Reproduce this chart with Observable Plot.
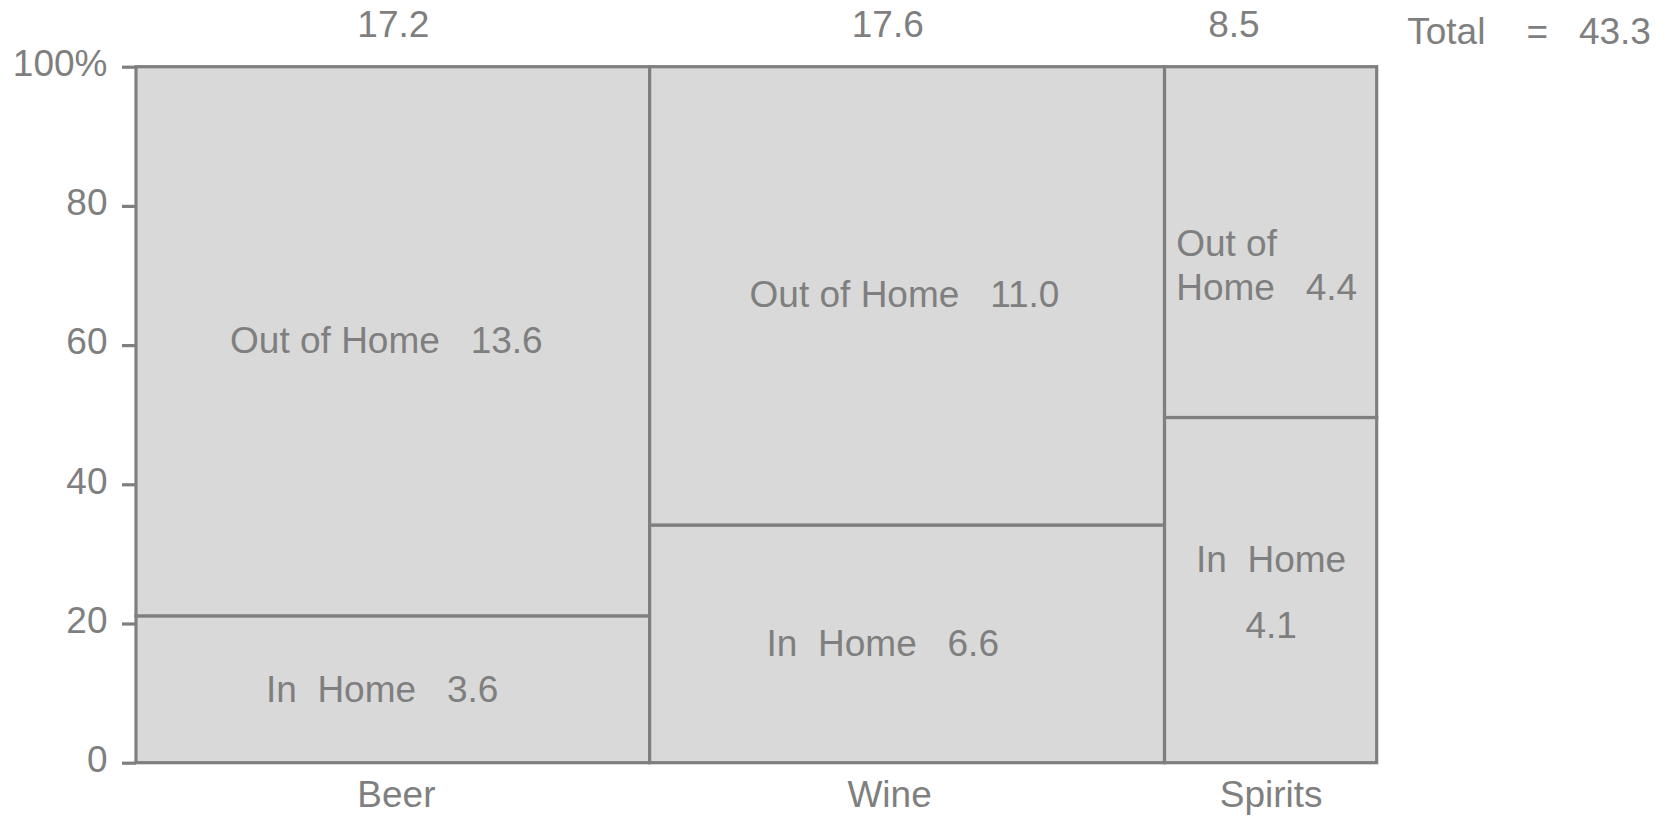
<!DOCTYPE html>
<html><head><meta charset="utf-8">
<script src="https://cdn.jsdelivr.net/npm/d3@7"></script>
<script src="https://cdn.jsdelivr.net/npm/@observablehq/plot@0.6"></script>
<style>
html,body{margin:0;padding:0;background:#fff;overflow:hidden;}
svg text{white-space:pre;}
</style></head><body><div id="chart"></div>
<script>
// ---- data ----
const categories = ["Beer", "Wine", "Spirits"];
const categoryTotals = [17.2, 17.6, 8.5];
const inHomeValues = [3.6, 6.6, 4.1];
const outOfHomeValues = [13.6, 11.0, 4.4];
const grandTotal = 43.3;
// column widths (% of horizontal span) and In-Home split heights (%) as drawn
const columnShares = [41.4, 41.5, 17.1];
const inHomeShares = [21.1, 34.15, 49.6];
const yTicks = [0, 20, 40, 60, 80, 100];
const yTickLabels = ["0", "20", "40", "60", "80", "100%"];

// ---- layout nudges (x-scale units) ----
const topNudge = [0, -1.6, -3.0];
const bottomNudge = [0.25, -1.45, 0];
const outNudge = [-0.56, -0.25];
const inNudge = [-0.9, -2.0];

// build columns
let acc = 0;
const cols = categories.map((c, i) => {
  const x1 = acc; acc += columnShares[i];
  return {cat: c, i, x1, x2: acc, mid: (x1 + acc) / 2};
});
const cells = cols.flatMap(c => [
  {cat: c.cat, seg: "In Home", x1: c.x1, x2: c.x2, y1: 0, y2: inHomeShares[c.i]},
  {cat: c.cat, seg: "Out of Home", x1: c.x1, x2: c.x2, y1: inHomeShares[c.i], y2: 100}
]);

const wideCols = cols.filter(c => c.i < 2);
const narrow = cols[2];

const gray = "#7f7f7f";

const chart = Plot.plot({
  width: 1669,
  height: 818,
  marginLeft: 136,
  marginRight: 292.3,
  marginTop: 66.7,
  marginBottom: 55.3,
  x: {domain: [0, 100], axis: null},
  y: {domain: [0, 100], axis: null},
  style: {fontFamily: "'Liberation Sans', Arial, sans-serif", fontSize: "37px", color: gray, background: "white", overflow: "visible"},
  marks: [
    Plot.rect(cells, {x1: "x1", x2: "x2", y1: "y1", y2: "y2", fill: "#d9d9d9", stroke: gray, strokeWidth: 3.2}),
    // y ticks (marks only) and their labels
    Plot.axisY(yTicks, {tickSize: 14, strokeWidth: 3.2, tickFormat: () => "", label: null}),
    Plot.text(yTicks, {y: d => d, text: d => yTickLabels[yTicks.indexOf(d)], frameAnchor: "left", textAnchor: "end", lineAnchor: "middle", dx: -29, dy: -3}),
    // column totals on top
    Plot.text(cols, {x: d => d.mid + topNudge[d.i], text: d => categoryTotals[d.i].toFixed(1), frameAnchor: "top", lineAnchor: "bottom", dy: -30}),
    // category names below
    Plot.text(cols, {x: d => d.mid + bottomNudge[d.i], text: "cat", frameAnchor: "bottom", lineAnchor: "bottom", dy: 44}),
    // grand total
    Plot.text([`Total    =   ${grandTotal.toFixed(1)}`], {frameAnchor: "top-right", textAnchor: "start", lineAnchor: "bottom", dx: 30, dy: -23.4}),
    // inner labels, wide columns
    Plot.text(wideCols, {x: d => d.mid + outNudge[d.i], y: d => (inHomeShares[d.i] + 100) / 2, text: d => `Out of Home   ${outOfHomeValues[d.i].toFixed(1)}`, lineAnchor: "middle", dy: -1}),
    Plot.text(wideCols, {x: d => d.mid + inNudge[d.i], y: d => inHomeShares[d.i] / 2, text: d => `In  Home   ${inHomeValues[d.i].toFixed(1)}`, lineAnchor: "middle"}),
    // inner labels, narrow column
    Plot.text([narrow], {x: d => d.x1 + 0.9, y: d => (inHomeShares[d.i] + 100) / 2, text: d => `Out of\nHome   ${outOfHomeValues[d.i].toFixed(1)}`, textAnchor: "start", lineAnchor: "middle", lineHeight: 1.19, dy: 21}),
    Plot.text([narrow], {x: "mid", y: d => inHomeShares[d.i] / 2, text: d => `In  Home\n${inHomeValues[d.i].toFixed(1)}`, lineAnchor: "middle", lineHeight: 1.79, dy: -7})
  ]
});
document.getElementById("chart").appendChild(chart);
</script>
</body></html>
